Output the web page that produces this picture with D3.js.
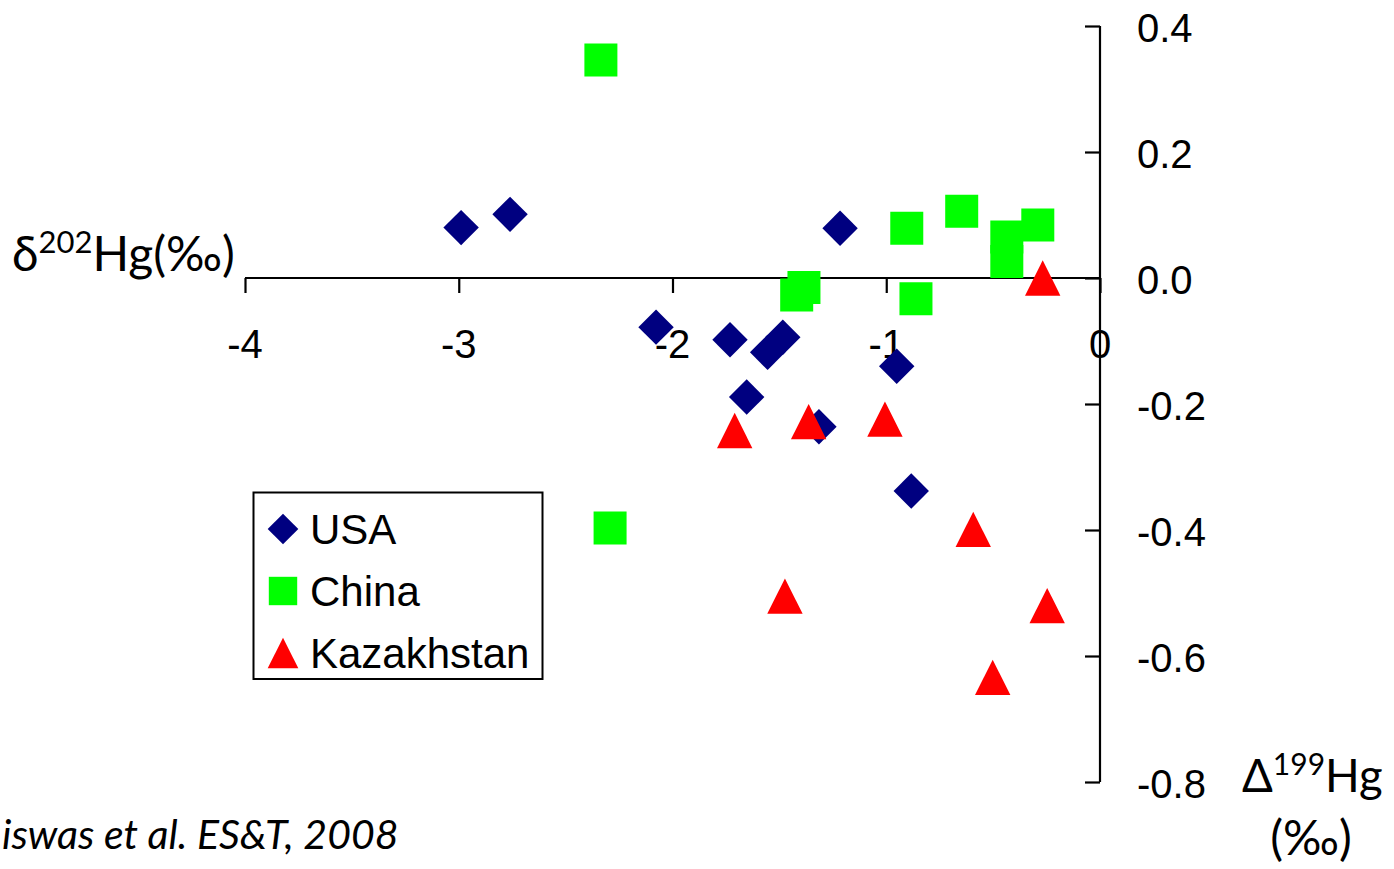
<!DOCTYPE html>
<html>
<head>
<meta charset="utf-8">
<script src="https://cdn.jsdelivr.net/npm/d3@7"></script>
<style>
  html, body { margin: 0; padding: 0; background: #fff; }
  svg { display: block; }
  .tick-label { font-family: "Liberation Sans", Arial, sans-serif; font-size: 40px; fill: #000; }
  .legend-label { font-family: "Liberation Sans", Arial, sans-serif; font-size: 42px; fill: #000; }
  .title { font-family: Lato, "Open Sans", sans-serif; fill: #000; }
</style>
</head>
<body>
<svg id="chart" width="1394" height="869"></svg>
<script>
// Δ199Hg (x) vs δ202Hg (y), per mille, coal samples by country
const seriesNames = ["USA", "China", "Kazakhstan"];

const usaX = [-2.989, -2.760, -1.216, -2.077, -1.731, -1.484, -1.555, -1.653, -0.951, -1.315, -0.883];
const usaY = [0.080, 0.101, 0.079, -0.078, -0.098, -0.094, -0.118, -0.189, -0.140, -0.236, -0.338];

const chinaX = [-2.335, -2.292, -1.419, -1.385, -0.904, -0.861, -0.647, -0.436, -0.436, -0.291];
const chinaY = [0.346, -0.397, -0.027, -0.015, 0.079, -0.033, 0.106, 0.065, 0.026, 0.084];

const kazX = [-0.268, -1.709, -1.363, -1.006, -0.593, -1.474, -0.247, -0.502];
const kazY = [0.000, -0.242, -0.228, -0.224, -0.399, -0.505, -0.520, -0.634];

const xTicks = [-4, -3, -2, -1, 0];
const yTicks = [0.4, 0.2, 0.0, -0.2, -0.4, -0.6, -0.8];

const svg = d3.select("#chart");

const x = d3.scaleLinear().domain([-4, 0]).range([245, 1100]);
const y = d3.scaleLinear().domain([-0.8, 0.4]).range([782, 26]);

// Marker shapes: diamond (rotated square), square, triangle; r = half-width
const diamondPath = r => `M0,${-r}L${r},0L0,${r}L${-r},0Z`;
const squarePath = r => `M${-r},${-r}H${r}V${r}H${-r}Z`;
const trianglePath = r => `M0,${-r}L${r},${r}L${-r},${r}Z`;

const series = [
  { name: seriesNames[0], xs: usaX, ys: usaY, color: "#000080", path: diamondPath, r: 17.7 },
  { name: seriesNames[1], xs: chinaX, ys: chinaY, color: "#00FF00", path: squarePath, r: 16.5 },
  { name: seriesNames[2], xs: kazX, ys: kazY, color: "#FF0000", path: trianglePath, r: 17.7 }
];

// Horizontal axis through y = 0, ticks pointing down
const xAxis = d3.axisBottom(x).tickValues(xTicks).tickSize(15).tickFormat("");
const gx = svg.append("g").attr("transform", `translate(0,${y(0)})`).call(xAxis);
gx.select(".domain").attr("d", `M${x(-4)},0H${x(0)}`);
gx.selectAll("path, line").attr("stroke", "#000").attr("stroke-width", 2.2);

// Vertical axis at x = 0, ticks pointing left
const yAxis = d3.axisLeft(y).tickValues(yTicks).tickSize(15).tickFormat("");
const gy = svg.append("g").attr("transform", `translate(${x(0)},0)`).call(yAxis);
gy.select(".domain").attr("d", `M0,${y(0.4)}V${y(-0.8)}`);
gy.selectAll("path, line").attr("stroke", "#000").attr("stroke-width", 2.2);

// Tick labels
svg.append("g").selectAll("text").data(xTicks).join("text")
  .attr("class", "tick-label")
  .attr("x", d => x(d))
  .attr("y", y(0) + 80)
  .attr("text-anchor", "middle")
  .text(d => d3.format("d")(d).replace("−", "-"));

svg.append("g").selectAll("text").data(yTicks).join("text")
  .attr("class", "tick-label")
  .attr("x", x(0) + 37)
  .attr("y", d => y(d) + 16)
  .text(d => d3.format(".1f")(d).replace("−", "-"));

// Data markers
series.forEach(s => {
  svg.append("g").selectAll("path").data(d3.range(s.xs.length)).join("path")
    .attr("transform", i => `translate(${x(s.xs[i])},${y(s.ys[i])})`)
    .attr("d", s.path(s.r))
    .attr("fill", s.color);
});

// Legend
const legend = svg.append("g");
legend.append("rect")
  .attr("x", 253.5).attr("y", 492.5).attr("width", 289).attr("height", 186.5)
  .attr("fill", "#fff").attr("stroke", "#000").attr("stroke-width", 2);
series.forEach((s, i) => {
  const cy = 529 + i * 62;
  legend.append("path")
    .attr("transform", `translate(283,${cy})`)
    .attr("d", s.path(i === 1 ? 14.2 : 15.3))
    .attr("fill", s.color);
  legend.append("text")
    .attr("class", "legend-label")
    .attr("x", 310).attr("y", cy + 14.5)
    .text(s.name);
});

// Axis titles
const yt = svg.append("text").attr("class", "title").attr("x", 12).attr("y", 271).style("font-size", "48px");
yt.append("tspan").text("δ");
yt.append("tspan").attr("dy", -18).style("font-size", "31px").text("202");
yt.append("tspan").attr("dy", 18).text("Hg(‰)");

const xt = svg.append("text").attr("class", "title").attr("x", 1242).attr("y", 792).style("font-size", "45.5px");
xt.append("tspan").text("Δ");
xt.append("tspan").attr("dy", -17).style("font-size", "30px").text("199");
xt.append("tspan").attr("dy", 17).text("Hg");

svg.append("text").attr("class", "title").attr("x", 1311).attr("y", 855)
  .attr("text-anchor", "middle").style("font-size", "48px").text("(‰)");

// Source note
svg.append("text").attr("class", "title").attr("x", 2).attr("y", 849)
  .style("font-size", "41px").style("font-style", "italic")
  .text("iswas et al. ES&T, 2008");
</script>
</body>
</html>
